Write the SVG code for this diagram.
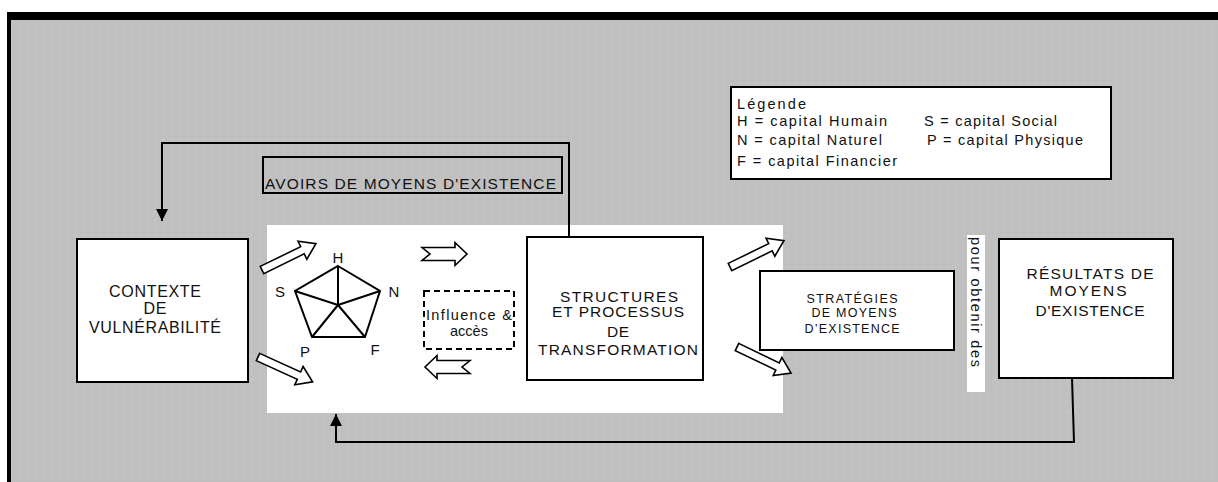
<svg xmlns="http://www.w3.org/2000/svg" xmlns:xlink="http://www.w3.org/1999/xlink" width="1218" height="482" viewBox="0 0 1218 482">
<defs>
<pattern id="dots" width="8" height="8" patternUnits="userSpaceOnUse">
<rect width="8" height="8" fill="#c0c0c0"/>
<rect x="3" y="3" width="1" height="1" fill="#dadada"/>
</pattern>
<marker id="tri" viewBox="0 0 10 10" refX="10" refY="5" markerWidth="6" markerHeight="6" orient="auto" markerUnits="strokeWidth">
<path d="M0,0 L10,5 L0,10 Z" fill="#000"/>
</marker>
<path id="barrow" d="M0,-4 H45 V-10 L60,0 L45,10 V4 H0 Z"/>
<path id="narrow" d="M0,-6.5 H33 V-11.5 L45,0 L33,11.5 V6.5 H0 L8,0 Z"/>
</defs>
<style>
.box{fill:#fff;stroke:#000;stroke-width:2}
.t{font-family:"Liberation Sans",Arial,sans-serif;fill:#111;text-anchor:middle}
.l{font-family:"Liberation Sans",Arial,sans-serif;fill:#111;font-size:14.5px}
.blk{fill:#fff;stroke:#000;stroke-width:1.6;stroke-linejoin:miter}
.con{fill:none;stroke:#000;stroke-width:2}
.pent{fill:none;stroke:#000;stroke-width:2;stroke-linejoin:miter}
</style>
<rect x="0" y="0" width="1218" height="482" fill="#fff"/>
<rect x="11" y="20" width="1207" height="462" fill="url(#dots)"/>
<rect x="7" y="12" width="1211" height="8" fill="#000"/>
<rect x="7" y="12" width="4" height="470" fill="#000"/>
<rect x="267" y="225" width="516" height="188" fill="#fff"/>
<rect x="967" y="235" width="18" height="157" fill="#fff"/>

<g id="connectors">
<path class="con" d="M569,237 V143 H162 V221" marker-end="url(#tri)"/>
<path class="con" d="M1072,378 L1074,442 H336 V414" marker-end="url(#tri)"/>
<use xlink:href="#barrow" class="blk" transform="translate(262,270) rotate(-26)"/>
<use xlink:href="#barrow" class="blk" transform="translate(258,357) rotate(24.5)"/>
<use xlink:href="#narrow" class="blk" transform="translate(422,254)"/>
<use xlink:href="#narrow" class="blk" transform="translate(470,367) rotate(180)"/>
<use xlink:href="#barrow" class="blk" transform="translate(730,267) rotate(-26)"/>
<use xlink:href="#barrow" class="blk" transform="translate(737,347) rotate(25.7)"/>
</g>

<g id="contexte">
<rect class="box" x="77" y="239" width="171" height="143"/>
<text class="t" font-size="16" x="155" y="297" textLength="92" lengthAdjust="spacing">CONTEXTE</text>
<text class="t" font-size="16" x="155" y="314" textLength="23" lengthAdjust="spacing">DE</text>
<text class="t" font-size="16" x="155" y="333" textLength="132" lengthAdjust="spacing">VULNÉRABILITÉ</text>
</g>

<g id="avoirs">
<rect x="263" y="157" width="299" height="36" fill="none" stroke="#000" stroke-width="2"/>
<text class="l" x="265" y="189" textLength="291" lengthAdjust="spacing" style="font-size:15.5px">AVOIRS DE MOYENS D'EXISTENCE</text>
</g>

<g id="pentagone">
<path class="pent" d="M338,266 L380,291 L365,337 L312,337 L295,291 Z M338,305 L338,266 M338,305 L380,291 M338,305 L365,337 M338,305 L312,337 M338,305 L295,291"/>
<text class="t" font-size="15" x="338" y="263">H</text>
<text class="t" font-size="15" x="280" y="297">S</text>
<text class="t" font-size="15" x="394" y="297">N</text>
<text class="t" font-size="15" x="305" y="357">P</text>
<text class="t" font-size="15" x="375" y="355">F</text>
</g>

<g id="influence">
<rect x="424" y="291" width="90" height="58" fill="none" stroke="#000" stroke-width="2" stroke-dasharray="6,4"/>
<text class="t" font-size="14.5" x="469" y="320" textLength="86" lengthAdjust="spacing">Influence &amp;</text>
<text class="t" font-size="14.5" x="469" y="336">accès</text>
</g>

<g id="structures">
<rect class="box" x="527" y="237" width="176" height="143"/>
<text class="t" font-size="15.5" x="619" y="302" textLength="118" lengthAdjust="spacing">STRUCTURES</text>
<text class="t" font-size="15.5" x="618" y="317" textLength="132" lengthAdjust="spacing">ET PROCESSUS</text>
<text class="t" font-size="15.5" x="618" y="337" textLength="22" lengthAdjust="spacing">DE</text>
<text class="t" font-size="15.5" x="618" y="355" textLength="160" lengthAdjust="spacing">TRANSFORMATION</text>
</g>

<g id="strategies">
<rect class="box" x="760" y="271" width="194" height="79"/>
<text class="t" font-size="12.5" x="852" y="303" textLength="91" lengthAdjust="spacing">STRATÉGIES</text>
<text class="t" font-size="12.5" x="854" y="317" textLength="85" lengthAdjust="spacing">DE MOYENS</text>
<text class="t" font-size="12.5" x="852" y="333" textLength="95" lengthAdjust="spacing">D’EXISTENCE</text>
</g>

<g id="pour">
<text class="l" transform="translate(971,237) rotate(90)" textLength="130" lengthAdjust="spacing">pour obtenir des</text>
</g>

<g id="resultats">
<rect class="box" x="999" y="239" width="174" height="139"/>
<text class="t" font-size="15.5" x="1090" y="279" textLength="127" lengthAdjust="spacing">RÉSULTATS DE</text>
<text class="t" font-size="15.5" x="1088" y="296" textLength="77" lengthAdjust="spacing">MOYENS</text>
<text class="t" font-size="15.5" x="1090" y="316" textLength="109" lengthAdjust="spacing">D'EXISTENCE</text>
</g>

<g id="legende">
<rect class="box" x="731" y="87" width="380" height="92"/>
<text class="l" x="737" y="109" textLength="69" lengthAdjust="spacing">Légende</text>
<text class="l" x="737" y="126" textLength="150" lengthAdjust="spacing">H = capital Humain</text>
<text class="l" x="924" y="126" textLength="133" lengthAdjust="spacing">S = capital Social</text>
<text class="l" x="737" y="145" textLength="145" lengthAdjust="spacing">N = capital Naturel</text>
<text class="l" x="927" y="145" textLength="156" lengthAdjust="spacing">P = capital Physique</text>
<text class="l" x="737" y="166" textLength="160" lengthAdjust="spacing">F =  capital Financier</text>
</g>
</svg>
